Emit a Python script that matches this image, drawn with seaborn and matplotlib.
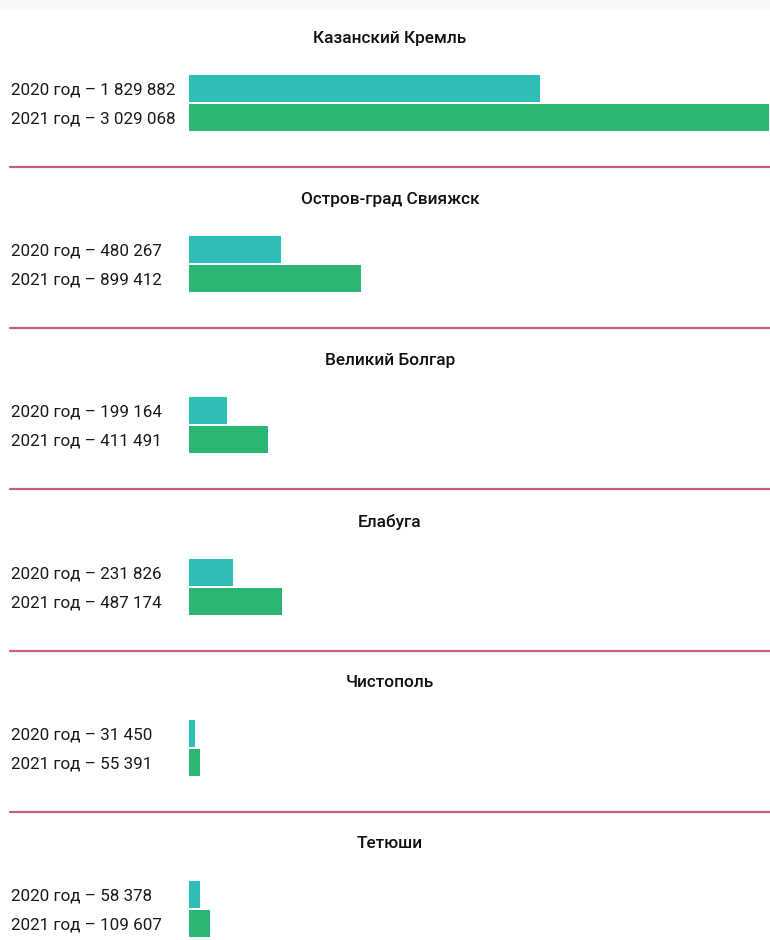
import pandas as pd
import matplotlib.pyplot as plt
import seaborn as sns
from matplotlib.lines import Line2D
from matplotlib.patches import Rectangle

# Visitors per museum-reserve, 2020 vs 2021
places = ["Казанский Кремль", "Остров-град Свияжск", "Великий Болгар",
          "Елабуга", "Чистополь", "Тетюши"]
visitors_2020 = [1829882, 480267, 199164, 231826, 31450, 58378]
visitors_2021 = [3029068, 899412, 411491, 487174, 55391, 109607]
years = ["2020", "2021"]
colors = {"2020": "#2ebdb7", "2021": "#2bb673"}


def fmt(n):
    return f"{n:,}".replace(",", " ")


sns.set_theme(style="white")
plt.rcParams['font.family'] = ['Roboto', 'DejaVu Sans']

W, H = 770, 940
fig = plt.figure(figsize=(W / 100, H / 100), dpi=100)
fig.patch.set_facecolor("white")
renderer = fig.canvas.get_renderer()


def fit_size(text, target_px, weight="normal"):
    # pick the font size that gives the text the width seen in the reference
    t = fig.text(0, 0, text, fontsize=10, fontweight=weight)
    w = t.get_window_extent(renderer=renderer).width
    t.remove()
    return 10 * target_px / w


label_size = fit_size(f"2021 год – {fmt(visitors_2021[0])}", 164)
title_size = fit_size(places[1], 178, weight="medium")

# faint band on top
fig.patches.append(Rectangle((0, 1 - 10 / H), 1, 10 / H, transform=fig.transFigure,
                             facecolor="#f8f8f8", edgecolor="none"))

step = 161.2
x0 = 189
xmax = max(visitors_2021) * 1.001

for i, place in enumerate(places):
    off = i * step
    vals = [visitors_2020[i], visitors_2021[i]]
    labels = [f"{y} год – {fmt(v)}" for y, v in zip(years, vals)]
    df = pd.DataFrame({"label": labels, "value": vals, "year": years})

    top, bottom = 74 + off, 132 + off
    ax = fig.add_axes([x0 / W, 1 - bottom / H, (W - x0) / W, (bottom - top) / H])
    sns.barplot(data=df, x="value", y="label", hue="year", palette=colors,
                order=labels, dodge=False, width=0.93, legend=False, ax=ax,
                saturation=1, edgecolor="none")
    ax.set_xlim(0, xmax)
    ax.set_ylim(1.5, -0.5)
    ax.set_xlabel("")
    ax.set_ylabel("")
    ax.set_xticks([])
    sns.despine(ax=ax, left=True, bottom=True)
    ax.tick_params(axis="y", length=0, pad=(x0 - 11) * 0.72, labelsize=label_size,
                   labelcolor="#1a1a1a")
    for lab in ax.get_yticklabels():
        lab.set_horizontalalignment("left")
    ax.patch.set_alpha(0)

    fig.text(390 / W, 1 - (38 + off) / H, place, ha="center", va="center",
             fontsize=title_size, fontweight="medium", color="#111111")

    if i < len(places) - 1:
        y = 1 - (167 + off) / H
        fig.add_artist(Line2D([10 / W, 1], [y, y], transform=fig.transFigure,
                              color="#cc5a86", linewidth=1.6))

plt.savefig("out.png", dpi=100, facecolor="white")
